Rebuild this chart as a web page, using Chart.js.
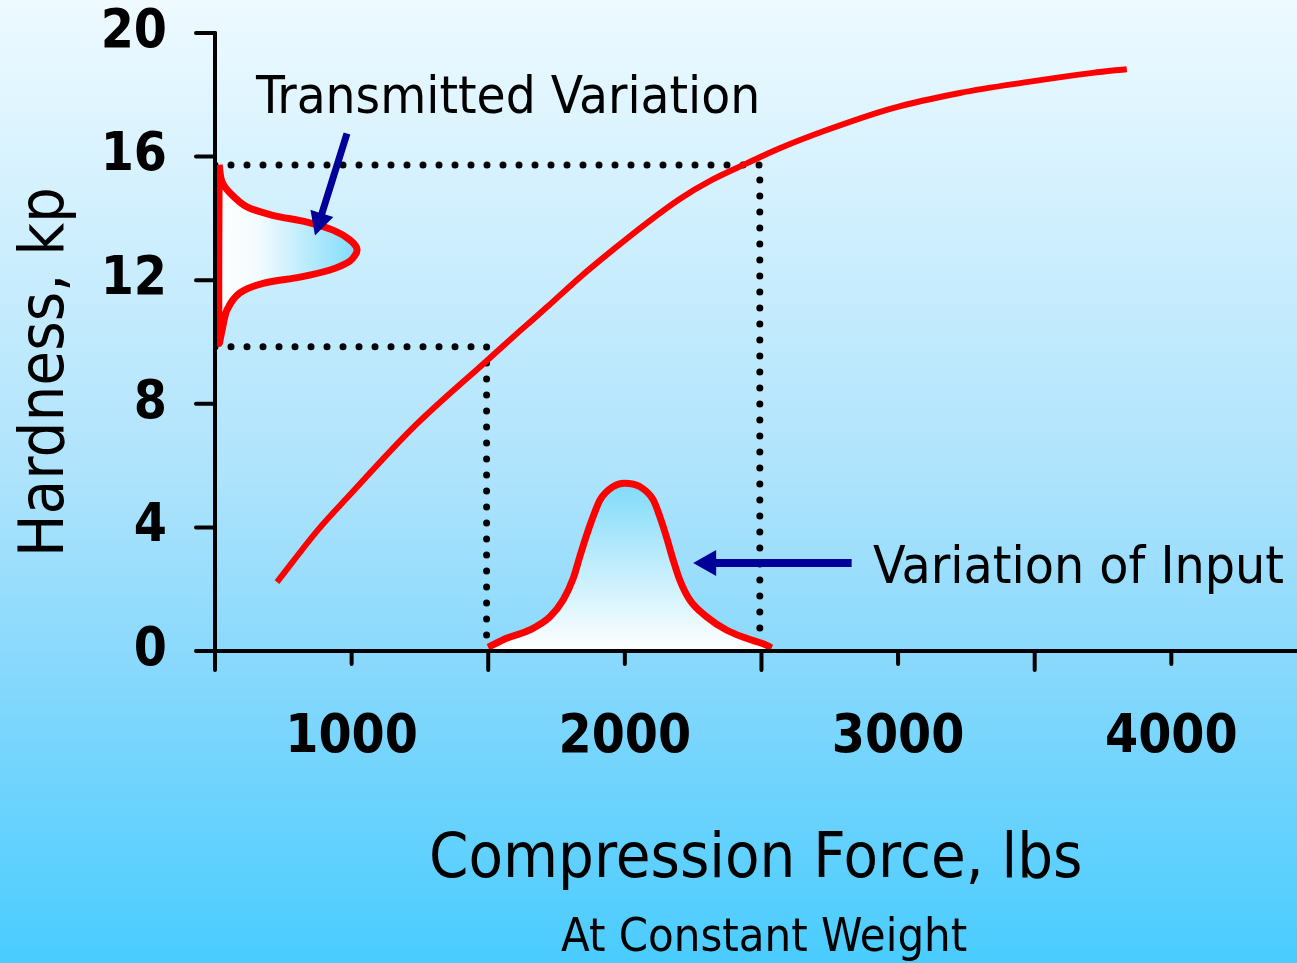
<!DOCTYPE html>
<html><head><meta charset="utf-8">
<script src="https://cdn.jsdelivr.net/npm/chart.js@4.4.1/dist/chart.umd.min.js"></script>
<style>html,body{margin:0;padding:0;background:#fff;} canvas{display:block;}</style>
</head><body>
<canvas id="c" width="1297" height="963"></canvas>
<script>
// ---- data ----
const curveX = [727, 877, 987, 1224, 1502, 1616, 1715, 1835, 1956, 2080, 2201, 2322, 2446, 2567, 2739, 2981, 3226, 3471, 3712, 3837];
const curveY = [2.23, 3.92, 4.99, 7.22, 9.45, 10.36, 11.13, 12.09, 12.98, 13.85, 14.63, 15.26, 15.78, 16.27, 16.86, 17.57, 18.06, 18.41, 18.71, 18.83];

const inputX = [1500, 1567, 1652, 1726, 1774, 1811, 1835, 1860, 1884, 1909, 1957, 1998, 2055, 2104, 2128, 2152, 2177, 2201, 2238, 2299, 2372, 2445, 2518, 2537];
const inputY = [0.12, 0.41, 0.68, 1.11, 1.65, 2.35, 3.05, 3.75, 4.35, 4.89, 5.32, 5.43, 5.32, 4.89, 4.35, 3.70, 2.94, 2.30, 1.65, 1.11, 0.68, 0.41, 0.19, 0.1];
const inputBaseX = [1500, 2537];
const inputBaseY = [0.1, 0.1];

const outputX = [515, 525, 555, 617, 712, 837, 932, 994, 1020, 994, 921, 811, 676, 591, 544, 526, 515, 515];
const outputY = [15.73, 15.2, 14.82, 14.37, 14.1, 13.88, 13.62, 13.3, 12.98, 12.62, 12.33, 12.1, 11.9, 11.59, 11.04, 10.39, 9.97, 15.73];

const guideHighX = [500, 2494, 2494];
const guideHighY = [15.73, 15.73, 0];
const guideLowX = [500, 1494, 1494];
const guideLowY = [9.85, 9.85, 0];

const xLabelTicks = [1000, 2000, 3000, 4000];
const xMarkTicks = [500, 1000, 1500, 2000, 2500, 3000, 3500, 4000];
const yLabelTicks = [0, 4, 8, 12, 16, 20];

const xTitle = 'Compression Force, lbs';
const xSubTitle = 'At Constant Weight';
const yTitle = 'Hardness, kp';
const noteOut = 'Transmitted Variation';
const noteIn = 'Variation of Input';

const FONT = '"DejaVu Sans Condensed", "DejaVu Sans", sans-serif';

function pts(xs, ys) { return xs.map((x, i) => ({x: x, y: ys[i]})); }

function fitText(ctx, text, x, y, w, size, weight, rot) {
  ctx.save();
  ctx.font = weight + ' ' + size + 'px ' + FONT;
  ctx.textBaseline = 'alphabetic';
  ctx.textAlign = 'left';
  const m = ctx.measureText(text);
  const ink = m.actualBoundingBoxLeft + m.actualBoundingBoxRight;
  const sx = w / ink;
  ctx.translate(x, y);
  if (rot) ctx.rotate(rot);
  ctx.scale(sx, 1);
  ctx.fillStyle = '#000';
  ctx.fillText(text, m.actualBoundingBoxLeft, 0);
  ctx.restore();
}

function arrow(ctx, x1, y1, x2, y2, shaft, headLen, headW, color) {
  const dx = x2 - x1, dy = y2 - y1;
  const L = Math.hypot(dx, dy);
  const ux = dx / L, uy = dy / L;
  const nx = -uy, ny = ux;
  const bx = x2 - ux * headLen, by = y2 - uy * headLen;
  ctx.save();
  ctx.fillStyle = color;
  ctx.beginPath();
  ctx.moveTo(x1 + nx * shaft / 2, y1 + ny * shaft / 2);
  ctx.lineTo(bx + nx * shaft / 2, by + ny * shaft / 2);
  ctx.lineTo(bx + nx * headW / 2, by + ny * headW / 2);
  ctx.lineTo(x2, y2);
  ctx.lineTo(bx - nx * headW / 2, by - ny * headW / 2);
  ctx.lineTo(bx - nx * shaft / 2, by - ny * shaft / 2);
  ctx.lineTo(x1 - nx * shaft / 2, y1 - ny * shaft / 2);
  ctx.closePath();
  ctx.fill();
  ctx.restore();
}

const decor = {
  id: 'decor',
  beforeDraw(chart) {
    const ctx = chart.ctx;
    const g = ctx.createLinearGradient(0, 0, 0, chart.height);
    g.addColorStop(0, '#eefaff');
    g.addColorStop(0.5, '#ade3fc');
    g.addColorStop(0.68, '#8ad9fc');
    g.addColorStop(1, '#4accfe');
    ctx.save();
    ctx.fillStyle = g;
    ctx.fillRect(0, 0, chart.width, chart.height);
    ctx.restore();
  },
  afterDatasetsDraw(chart) {
    const ctx = chart.ctx;
    const xs = chart.scales.x, ys = chart.scales.y;
    const x0 = xs.getPixelForValue(500), y0 = ys.getPixelForValue(0);
    ctx.save();
    ctx.strokeStyle = '#000';
    ctx.lineWidth = 4;
    ctx.lineCap = 'round';
    ctx.beginPath();
    ctx.moveTo(x0, y0); ctx.lineTo(chart.width + 4, y0);
    ctx.moveTo(x0, y0); ctx.lineTo(x0, ys.getPixelForValue(20));
    ctx.stroke();
    ctx.beginPath();
    xMarkTicks.forEach(v => {
      const p = xs.getPixelForValue(v);
      const len = (v % 1000 === 0) ? 13 : 19;
      ctx.moveTo(p, y0); ctx.lineTo(p, y0 + len);
    });
    yLabelTicks.forEach(v => {
      const p = ys.getPixelForValue(v);
      ctx.moveTo(x0, p); ctx.lineTo(x0 - 19, p);
    });
    ctx.stroke();
    ctx.restore();

    arrow(ctx, xs.getPixelForValue(983), ys.getPixelForValue(16.75), xs.getPixelForValue(866), ys.getPixelForValue(13.45), 7, 23, 24, '#000099');
    arrow(ctx, xs.getPixelForValue(2830), ys.getPixelForValue(2.85), xs.getPixelForValue(2250), ys.getPixelForValue(2.85), 8, 23, 26, '#000099');

    fitText(ctx, noteOut, 255, 113, 502, 51, 'normal', 0);
    fitText(ctx, noteIn, 873, 583, 410, 51, 'normal', 0);
    fitText(ctx, xTitle, 432, 877, 648, 63, 'normal', 0);
    fitText(ctx, xSubTitle, 561, 951, 406, 46, 'normal', 0);
    fitText(ctx, yTitle, 63, 552, 362, 63, 'normal', -Math.PI / 2);
  }
};

function vGrad(ctx) {
  const chart = ctx.chart;
  if (!chart.chartArea) return 'rgba(0,0,0,0)';
  const ys = chart.scales.y;
  const g = chart.ctx.createLinearGradient(0, ys.getPixelForValue(5.43), 0, ys.getPixelForValue(0));
  g.addColorStop(0, '#80dbfa');
  g.addColorStop(0.5, '#c2edfc');
  g.addColorStop(1, '#ffffff');
  return g;
}
function hGrad(ctx) {
  const chart = ctx.chart;
  if (!chart.chartArea) return 'rgba(0,0,0,0)';
  const xs = chart.scales.x;
  const g = chart.ctx.createLinearGradient(xs.getPixelForValue(500), 0, xs.getPixelForValue(1020), 0);
  g.addColorStop(0, '#ffffff');
  g.addColorStop(0.3, '#f4fbff');
  g.addColorStop(1, '#80dbfa');
  return g;
}

new Chart(document.getElementById('c'), {
  type: 'line',
  data: {
    datasets: [
      { label: 'Hardness', data: pts(curveX, curveY), borderColor: '#ff0000', borderWidth: 6,
        pointRadius: 0, cubicInterpolationMode: 'monotone', fill: false, order: 1 },
      { label: 'Input variation', data: pts(inputX, inputY), borderColor: '#ff0000', borderWidth: 7,
        pointRadius: 0, cubicInterpolationMode: 'monotone', fill: 'origin', backgroundColor: vGrad, order: 2 },
      { label: 'Input base', data: pts(inputBaseX, inputBaseY), borderColor: '#ff0000', borderWidth: 5,
        pointRadius: 0, tension: 0, fill: false, order: 2 },
      { label: 'Transmitted variation', data: pts(outputX, outputY), borderColor: '#ff0000', borderWidth: 7,
        pointRadius: 0, tension: 0.3, fill: 'shape', backgroundColor: hGrad, order: 2 },
      { label: 'guide high', data: pts(guideHighX, guideHighY), borderColor: '#000', borderWidth: 7,
        borderDash: [0, 16], borderCapStyle: 'round', pointRadius: 0, tension: 0, fill: false, order: 3 },
      { label: 'guide low', data: pts(guideLowX, guideLowY), borderColor: '#000', borderWidth: 7,
        borderDash: [0, 16], borderCapStyle: 'round', pointRadius: 0, tension: 0, fill: false, order: 3 }
    ]
  },
  options: {
    responsive: false,
    animation: false,
    devicePixelRatio: 1,
    layout: { padding: { top: 33, left: 0, right: 0, bottom: 0 } },
    plugins: { legend: { display: false }, tooltip: { enabled: false }, title: { display: false } },
    scales: {
      x: {
        type: 'linear', min: 500, max: 4460,
        grid: { display: false, drawTicks: false },
        border: { display: false },
        afterBuildTicks: s => { s.ticks = xLabelTicks.map(v => ({ value: v })); },
        afterFit: s => { s.height = 312; s.paddingLeft = 0; s.paddingRight = 0; },
        ticks: { autoSkip: false, maxRotation: 0, minRotation: 0, padding: 61, color: '#000',
          callback: v => String(v),
          font: { family: FONT, size: 53, weight: 'bold', lineHeight: 1 } }
      },
      y: {
        type: 'linear', min: 0, max: 20,
        grid: { display: false, drawTicks: false },
        border: { display: false },
        afterBuildTicks: s => { s.ticks = yLabelTicks.map(v => ({ value: v })); },
        afterFit: s => { s.width = 215; s.paddingTop = 0; s.paddingBottom = 0; },
        ticks: { autoSkip: false, padding: 48, color: '#000',
          callback: v => String(v),
          font: { family: FONT, size: 53, weight: 'bold', lineHeight: 1 } }
      }
    }
  },
  plugins: [decor]
});
</script>
</body></html>
